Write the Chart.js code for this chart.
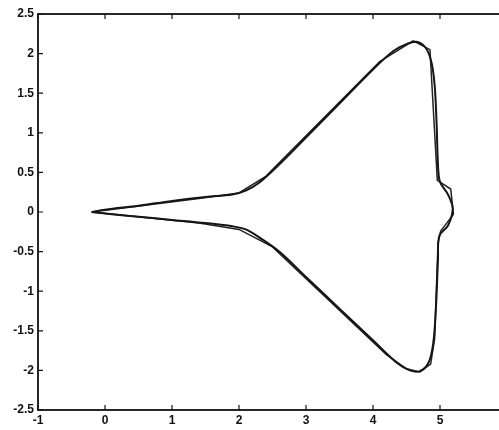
<!DOCTYPE html>
<html>
<head>
<meta charset="utf-8">
<script src="https://cdn.jsdelivr.net/npm/chart.js@4/dist/chart.umd.min.js"></script>
<style>
  html, body { margin: 0; padding: 0; background: #fff; overflow: hidden; }
  #wrap { width: 510px; height: 430px; }
</style>
</head>
<body>
<div id="wrap"><canvas id="chart-canvas" width="510" height="430"></canvas></div>
<script>
// smooth outline (closed, starts and ends at the tip)
const curveX = [-0.2, 0, 0.5, 1.0, 1.5, 1.9, 2.1, 2.3, 2.6, 3.0, 3.5, 4.0, 4.3, 4.5, 4.65, 4.78, 4.87, 4.92, 4.95, 4.97, 5.0, 5.12, 5.19, 5.12, 4.99, 4.97, 4.94, 4.9, 4.83, 4.7, 4.55, 4.35, 4.0, 3.5, 3.0, 2.6, 2.3, 2.1, 1.9, 1.5, 1.0, 0.5, 0, -0.2];
const curveY = [0, 0.03, 0.08, 0.14, 0.19, 0.22, 0.27, 0.37, 0.6, 0.94, 1.37, 1.8, 2.03, 2.12, 2.15, 2.08, 1.9, 1.6, 1.1, 0.6, 0.38, 0.22, 0.04, -0.17, -0.3, -0.6, -1.2, -1.65, -1.9, -2.01, -2.0, -1.9, -1.62, -1.22, -0.82, -0.5, -0.32, -0.22, -0.18, -0.14, -0.1, -0.06, -0.02, 0];

// polygonal approximation
const polyX = [-0.2, 1.4, 2.0, 2.4, 4.1, 4.6, 4.85, 4.96, 5.16, 5.2, 5.01, 4.97, 4.92, 4.86, 4.7, 4.5, 4.2, 2.5, 2.0, 1.4, -0.2];
const polyY = [0, 0.17, 0.24, 0.45, 1.9, 2.16, 2.05, 0.4, 0.29, -0.03, -0.24, -0.4, -1.6, -1.92, -2.02, -1.98, -1.8, -0.44, -0.22, -0.14, 0];

const xTicks = [-1, 0, 1, 2, 3, 4, 5, 6];
const yTicks = [-2.5, -2, -1.5, -1, -0.5, 0, 0.5, 1, 1.5, 2, 2.5];

const toPoints = (xs, ys) => xs.map((x, i) => ({ x: x, y: ys[i] }));

// box round the plot with inward tick marks on all four sides
const boxPlugin = {
  id: 'box',
  afterDraw(chart) {
    const { ctx, chartArea: a, scales } = chart;
    ctx.save();
    ctx.strokeStyle = '#111';
    ctx.lineWidth = 1.8;
    ctx.strokeRect(a.left, a.top, a.right - a.left, a.bottom - a.top);
    ctx.lineWidth = 1.2;
    ctx.beginPath();
    xTicks.forEach(v => {
      const px = scales.x.getPixelForValue(v);
      ctx.moveTo(px, a.bottom); ctx.lineTo(px, a.bottom - 5);
      ctx.moveTo(px, a.top); ctx.lineTo(px, a.top + 5);
    });
    yTicks.forEach(v => {
      const py = scales.y.getPixelForValue(v);
      ctx.moveTo(a.left, py); ctx.lineTo(a.left + 5, py);
      ctx.moveTo(a.right, py); ctx.lineTo(a.right - 5, py);
    });
    ctx.stroke();
    ctx.restore();
  }
};

const font = { family: 'Liberation Sans', size: 12, weight: 'bold' };

new Chart(document.getElementById('chart-canvas'), {
  type: 'line',
  data: {
    datasets: [
      {
        data: toPoints(curveX, curveY),
        borderColor: '#151515',
        borderWidth: 2,
        pointRadius: 0,
        tension: 0.35,
        fill: false
      },
      {
        data: toPoints(polyX, polyY),
        borderColor: '#222',
        borderWidth: 1.5,
        pointRadius: 0,
        tension: 0,
        fill: false
      }
    ]
  },
  options: {
    responsive: false,
    animation: false,
    layout: { padding: { top: 14, right: 3, left: 0, bottom: 0 } },
    plugins: { legend: { display: false }, tooltip: { enabled: false } },
    scales: {
      x: {
        type: 'linear',
        min: -1,
        max: 6,
        afterBuildTicks: s => { s.ticks = xTicks.map(v => ({ value: v })); },
        afterFit: s => { s.height = 20; },
        grid: { display: false, drawTicks: false },
        border: { display: false },
        ticks: { color: '#111', font: font, padding: 3, maxRotation: 0,
                 callback: v => (v === 6 ? '' : String(v)) }
      },
      y: {
        type: 'linear',
        min: -2.5,
        max: 2.5,
        afterBuildTicks: s => { s.ticks = yTicks.map(v => ({ value: v })); },
        afterFit: s => { s.width = 38; },
        grid: { display: false, drawTicks: false },
        border: { display: false },
        ticks: { color: '#111', font: font, padding: 4, callback: v => String(v) }
      }
    }
  },
  plugins: [boxPlugin]
});
</script>
</body>
</html>
